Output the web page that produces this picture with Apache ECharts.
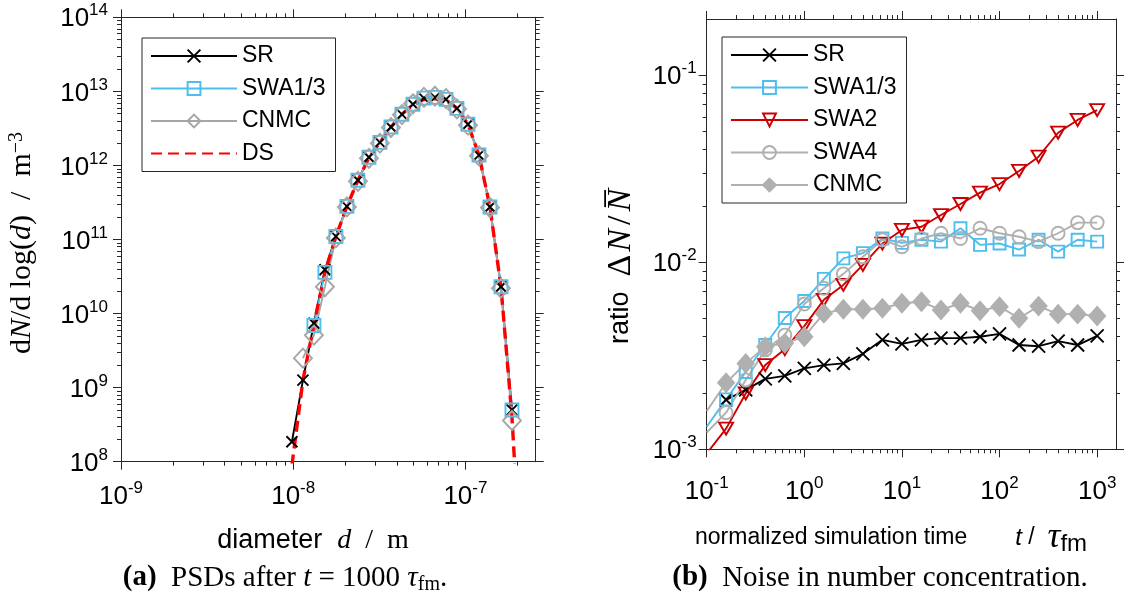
<!DOCTYPE html>
<html><head><meta charset="utf-8">
<script src="https://cdn.jsdelivr.net/npm/echarts@6/dist/echarts.min.js"></script>
<style>html,body{margin:0;padding:0;background:#fff}#c{width:1137px;height:600px}</style>
</head><body><div id="c"></div>
<script>
// ---------- (a) particle size distributions ----------
const diameterNm = [9.83, 11.39, 13.19, 15.28, 17.70, 20.51, 23.76, 27.53, 31.89, 36.95, 42.80, 49.59, 57.45, 66.55, 77.10, 89.32, 103.5, 119.9, 138.9, 160.9, 186.4, 216.0];
const psdSR   = [1.86e8, 1.26e9, 7.4e9, 3.9e10, 1.1e11, 2.8e11, 6.3e11, 1.29e12, 2.05e12, 3.3e12, 4.9e12, 6.7e12, 8.1e12, 8.3e12, 7.8e12, 5.9e12, 3.6e12, 1.38e12, 2.75e11, 2.3e10, 5.0e8, null];
const psdSWA  = [null, null, 6.9e9, 3.6e10, 1.1e11, 2.8e11, 6.3e11, 1.29e12, 2.05e12, 3.3e12, 4.9e12, 6.7e12, 8.1e12, 8.3e12, 7.8e12, 5.9e12, 3.6e12, 1.38e12, 2.75e11, 2.3e10, 5.0e8, null];
const psdCNMC = [null, 2.5e9, 5.1e9, 2.3e10, 1.05e11, 2.75e11, 6.1e11, 1.25e12, 2.0e12, 3.25e12, 4.85e12, 6.8e12, 8.3e12, 8.6e12, 8.0e12, 5.8e12, 3.5e12, 1.35e12, 2.7e11, 2.2e10, 3.6e8, null];
const psdDS   = [8.9e7, 1.26e9, 7.1e9, 3.6e10, 1.1e11, 2.8e11, 6.3e11, 1.27e12, 2.05e12, 3.3e12, 4.9e12, 6.6e12, 7.8e12, 8.0e12, 7.6e12, 5.9e12, 3.6e12, 1.38e12, 2.75e11, 2.3e10, 4.0e8, 1.0e6];
const psdNames = ['SR', 'SWA1/3', 'CNMC', 'DS'];

// ---------- (b) noise in number concentration ----------
const simTime    = [0.1, 0.158, 0.251, 0.398, 0.631, 1, 1.585, 2.512, 3.981, 6.31, 10, 15.85, 25.12, 39.81, 63.1, 100, 158.5, 251.2, 398.1, 631, 1000];
const ratioSR    = [null, 1.84e-3, 2.08e-3, 2.38e-3, 2.47e-3, 2.71e-3, 2.82e-3, 2.88e-3, 3.24e-3, 3.85e-3, 3.66e-3, 3.85e-3, 3.93e-3, 3.93e-3, 4.0e-3, 4.14e-3, 3.61e-3, 3.56e-3, 3.79e-3, 3.61e-3, 4.04e-3];
const ratioSWA13 = [1.32e-3, 1.85e-3, 2.59e-3, 3.61e-3, 5.04e-3, 6.21e-3, 8.15e-3, 1.05e-2, 1.12e-2, 1.34e-2, 1.27e-2, 1.32e-2, 1.29e-2, 1.52e-2, 1.24e-2, 1.26e-2, 1.17e-2, 1.32e-2, 1.14e-2, 1.32e-2, 1.29e-2];
const ratioSWA2  = [9.5e-4, 1.29e-3, 1.99e-3, 2.82e-3, 3.43e-3, 4.56e-3, 6.3e-3, 7.57e-3, 9.68e-3, 1.26e-2, 1.49e-2, 1.55e-2, 1.79e-2, 2.05e-2, 2.36e-2, 2.62e-2, 3.08e-2, 3.67e-2, 4.93e-2, 5.77e-2, 6.52e-2];
const ratioSWA4  = [1.23e-3, 1.57e-3, 2.35e-3, 3.40e-3, 4.08e-3, 5.98e-3, 7.26e-3, 8.67e-3, 1.07e-2, 1.32e-2, 1.21e-2, 1.34e-2, 1.43e-2, 1.34e-2, 1.52e-2, 1.43e-2, 1.37e-2, 1.29e-2, 1.43e-2, 1.63e-2, 1.63e-2];
const ratioCNMC  = [1.6e-3, 2.27e-3, 2.88e-3, 3.54e-3, 3.69e-3, 4.0e-3, 5.33e-3, 5.61e-3, 5.61e-3, 5.68e-3, 6.04e-3, 6.15e-3, 5.56e-3, 6.04e-3, 5.51e-3, 5.79e-3, 5.02e-3, 5.83e-3, 5.28e-3, 5.28e-3, 5.16e-3];
const ratioNames = ['SR', 'SWA1/3', 'SWA2', 'SWA4', 'CNMC'];

// axis extents (log10 of the data units)
const psdXRange = [Math.log10(1e-9), Math.log10(2.56e-7)];
const psdYRange = [8, 14];
const ratioXRange = [-1, Math.log10(1560)];
const ratioYRange = [-3, Math.log10(0.2)];

const L = v => (v == null ? null : Math.log10(v));
const AX = '#262626';
const SANS = 'Liberation Sans';
const SERIF = 'Liberation Serif';
const X_PATH = 'path://M0,0L10,10M10,0L0,10';

function decadeLabel(v) { const n = Math.round(v); return '{b|10}{s|' + (n < 0 ? '-' : '') + Math.abs(n) + '}'; }
const tickRich = {
  b: { fontFamily: SANS, fontSize: 26, color: '#000', lineHeight: 30, verticalAlign: 'bottom' },
  s: { fontFamily: SANS, fontSize: 17, color: '#000', lineHeight: 17, verticalAlign: 'top' }
};
function majorValues(a, b) { const o = []; for (let n = Math.ceil(a - 1e-9); n <= Math.floor(b + 1e-9); n++) o.push(n); return o; }
function minorValues(a, b) { const o = []; for (let n = Math.floor(a); n < Math.ceil(b); n++) for (let k = 2; k <= 9; k++) { const v = n + Math.log10(k); if (v > a + 1e-9 && v < b - 1e-9) o.push(v); } return o; }
function makeAxes(dim, gridIndex, range, margin) {
  const main = dim === 'x' ? 'bottom' : 'left', opp = dim === 'x' ? 'top' : 'right';
  const maj = majorValues(range[0], range[1]), mnr = minorValues(range[0], range[1]);
  const base = { type: 'value', gridIndex, min: range[0], max: range[1], silent: true,
    splitLine: { show: false }, axisLine: { show: true, onZero: false, lineStyle: { color: AX, width: 1 } } };
  const noLine = { show: false, onZero: false };
  const majTick = { show: true, length: 8, customValues: maj, lineStyle: { color: AX, width: 1 } };
  const mnrTick = { show: true, length: 4, customValues: mnr, lineStyle: { color: AX, width: 1 } };
  return [
    Object.assign({}, base, { position: main, axisTick: majTick, axisLabel: { show: true, customValues: maj, margin, formatter: decadeLabel, rich: tickRich } }),
    Object.assign({}, base, { position: main, axisLine: noLine, axisTick: mnrTick, axisLabel: { show: false } }),
    Object.assign({}, base, { position: opp, axisTick: majTick, axisLabel: { show: false } }),
    Object.assign({}, base, { position: opp, axisLine: noLine, axisTick: mnrTick, axisLabel: { show: false } })
  ];
}
function pairs(xs, ys, hideFirst) {
  const out = [];
  ys.forEach((y, i) => {
    if (y == null) return;
    const it = { value: [L(xs[i]), L(y)] };
    if (hideFirst && i === 0) it.symbol = 'none';
    out.push(it);
  });
  return out;
}
const dLog = diameterNm.map(v => v * 1e-9);

function lineSeries(name, gi, data, color, symbol, size, opts) {
  opts = opts || {};
  return Object.assign({
    name, type: 'line', xAxisIndex: gi * 4, yAxisIndex: gi * 4, data,
    symbol, symbolSize: size, showAllSymbol: true, animation: false, silent: true,
    lineStyle: { color, width: 1.9 },
    itemStyle: { color: opts.fill || 'rgba(0,0,0,0)', borderColor: color, borderWidth: 1.9 },
    emphasis: { disabled: true }
  }, opts.extra || {});
}

const series = [
  lineSeries('SR', 0, pairs(dLog, psdSR), '#000000', X_PATH, 11),
  lineSeries('SWA1/3', 0, pairs(dLog, psdSWA), '#4DBEEE', 'rect', 13),
  lineSeries('CNMC', 0, pairs(dLog, psdCNMC), '#A6A6A6', 'diamond', [18, 19]),
  lineSeries('DS', 0, pairs(dLog, psdDS), '#FF0000', 'none', 0, { extra: { lineStyle: { color: '#FF0000', width: 3.4, type: [11, 6] } } }),
  lineSeries('SR#2', 1, pairs(simTime, ratioSR), '#000000', X_PATH, 13),
  lineSeries('SWA1/3#2', 1, pairs(simTime, ratioSWA13, true), '#4DBEEE', 'rect', 12),
  lineSeries('SWA2#2', 1, pairs(simTime, ratioSWA2, true), '#CC0000', 'triangle', [14, 12], { extra: { symbolRotate: 180 } }),
  lineSeries('SWA4#2', 1, pairs(simTime, ratioSWA4, true), '#B0B0B0', 'circle', 13),
  lineSeries('CNMC#2', 1, pairs(simTime, ratioCNMC, true), '#B0B0B0', 'diamond', [16, 18], { fill: '#B0B0B0' })
];

const legendBase = {
  orient: 'vertical', itemWidth: 86, itemHeight: 16, itemGap: 8.5,
  padding: [6, 10, 6, 8], borderColor: AX, borderWidth: 1, backgroundColor: '#fff',
  selectedMode: false, formatter: n => n.replace('#2', ''),
  textStyle: { fontFamily: SANS, fontSize: 23, color: '#000', lineHeight: 24 }
};
const noSymbol = { color: 'rgba(0,0,0,0)', borderColor: 'rgba(0,0,0,0)', borderWidth: 0 };

const rich = {
  sansR: { fontFamily: SANS, fontSize: 27, color: '#000' },
  sansS: { fontFamily: SANS, fontSize: 23, color: '#000', lineHeight: 36 },
  sansI: { fontFamily: SANS, fontSize: 24, fontStyle: 'italic', color: '#000', lineHeight: 36, padding: [0, 0, 0, 48] },
  tau: { fontFamily: SERIF, fontSize: 36, fontStyle: 'italic', color: '#000', lineHeight: 36 },
  fm: { fontFamily: SANS, fontSize: 24, color: '#000', lineHeight: 8, verticalAlign: 'bottom' },
  r: { fontFamily: SERIF, fontSize: 28, color: '#000' },
  i: { fontFamily: SERIF, fontSize: 28, fontStyle: 'italic', color: '#000' },
  ry: { fontFamily: SERIF, fontSize: 30, color: '#000' },
  iy: { fontFamily: SERIF, fontSize: 30, fontStyle: 'italic', color: '#000' },
  big: { fontFamily: SERIF, fontSize: 34, color: '#000', padding: [0, 2, 0, 0] },
  bigI: { fontFamily: SERIF, fontSize: 34, fontStyle: 'italic', color: '#000', padding: [0, 1, 0, 1] },
  slash: { fontFamily: SERIF, fontSize: 34, color: '#000', padding: [0, 3, 0, 3] },
  sup: { fontFamily: SERIF, fontSize: 20, color: '#000', verticalAlign: 'top', lineHeight: 20 },
  cb: { fontFamily: SERIF, fontSize: 29, fontWeight: 'bold', color: '#000', lineHeight: 34 },
  cr: { fontFamily: SERIF, fontSize: 29, color: '#000', lineHeight: 34 },
  ci: { fontFamily: SERIF, fontSize: 29, fontStyle: 'italic', color: '#000', lineHeight: 34 },
  csub: { fontFamily: SERIF, fontSize: 20, color: '#000', lineHeight: 20, verticalAlign: 'bottom' }
};
function txt(x, y, text, rot, align) {
  return { type: 'text', x, y, rotation: rot || 0, silent: true,
    style: { text, rich, align: align || 'center', verticalAlign: 'middle', fill: '#000' } };
}

const option = {
  animation: false,
  backgroundColor: '#fff',
  grid: [
    { left: 121, top: 17.3, width: 414.7, height: 444.4, containLabel: false },
    { left: 706.7, top: 19, width: 409.3, height: 430.3, containLabel: false }
  ],
  xAxis: [].concat(makeAxes('x', 0, psdXRange, 18), makeAxes('x', 1, ratioXRange, 26)),
  yAxis: [].concat(makeAxes('y', 0, psdYRange, 13), makeAxes('y', 1, ratioYRange, 10)),
  legend: [
    Object.assign({}, legendBase, { left: 142, top: 38,
      data: psdNames.map(n => (n === 'DS' ? { name: n, itemStyle: noSymbol } : n)) }),
    Object.assign({}, legendBase, { left: 722, top: 37, itemWidth: 77, data: ratioNames.map(n => n + '#2') })
  ],
  series,
  graphic: [
    txt(22, 243, '{ry|d}{iy|N}{ry|/d log(}{iy|d}{ry|)  /  m}{sup|−3}', Math.PI / 2),
    txt(313, 541, '{sansR|diameter  }{i|d}{r|  /  m}'),
    txt(621, 266, '{sansR|ratio  }{big|Δ}{bigI|N}{slash|/}{bigI|N\u0305}', Math.PI / 2),
    txt(695, 538, '{sansS|normalized simulation time}{sansI|t}{sansS| /  }{tau|τ}{fm|fm}', 0, 'left'),
    txt(285, 578, '{cb|(a)}{cr|  PSDs after }{ci|t}{cr| = 1000 }{ci|τ}{csub|fm}{cr|.}'),
    txt(880, 578, '{cb|(b)}{cr|  Noise in number concentration.}')
  ]
};
echarts.init(document.getElementById('c'), null, { renderer: 'canvas' }).setOption(option);
</script>
</body></html>
